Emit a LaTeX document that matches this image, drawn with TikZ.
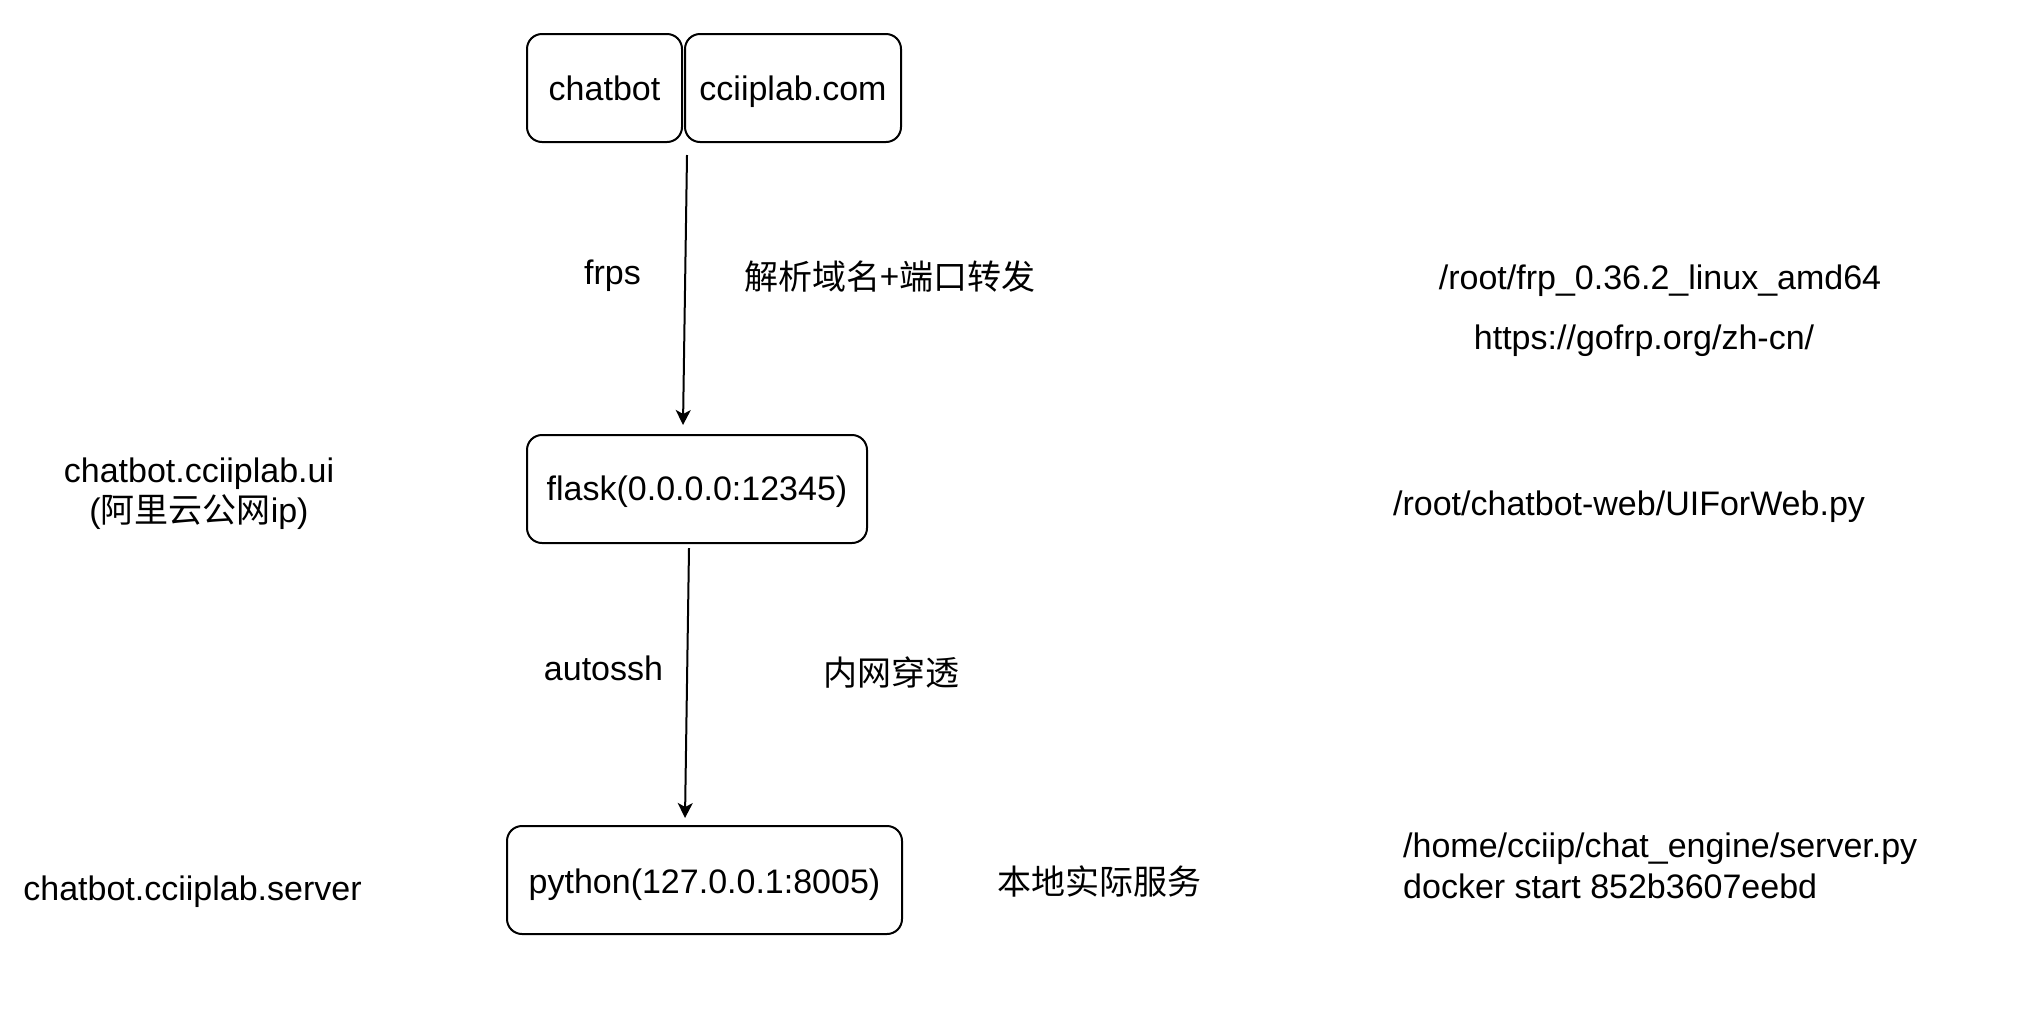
\documentclass[tikz,border=0pt]{standalone}
\usepackage{fontspec}
\setmainfont{Liberation Sans}
\newfontfamily\cjk{Noto Sans CJK SC}
\usetikzlibrary{arrows.meta}
\begin{document}
\begin{tikzpicture}[x=1pt,y=-1pt,
  box/.style={draw, line width=2pt, rounded corners=15pt, inner sep=0pt,
    text height=32pt, text depth=8pt, font=\fontsize{34pt}{40pt}\selectfont},
  lbl/.style={anchor=base, inner sep=0pt, font=\fontsize{34pt}{40pt}\selectfont},
  arr/.style={line width=2pt, -{Stealth[length=15pt,width=15pt,inset=4pt]}}
]
\useasboundingbox (0,0) rectangle (2020,1021);

% boxes
\node[box, minimum width=155pt, minimum height=108pt] (chatbot) at (604.5,88) {chatbot};
\node[box, minimum width=216pt, minimum height=108pt] (domain) at (793,88) {cciiplab.com};
\node[box, minimum width=340pt, minimum height=108pt, text height=31pt] (flask) at (697,489) {flask(0.0.0.0:12345)};
\node[box, minimum width=395pt, minimum height=108pt, text height=35pt] (python) at (704.5,880) {python(127.0.0.1:8005)};

% connectors
\coordinate (a1s) at (687,155);
\coordinate (a1e) at (683,425);
\coordinate (a2s) at (689,548);
\coordinate (a2e) at (685,818);
\draw[arr] (a1s) -- (a1e);
\draw[arr] (a2s) -- (a2e);

% labels
\node[lbl] (frps) at (612.5,284) {frps};
\node[lbl] (dns) at (890,289) {\cjk 解析域名+端口转发};
\node[lbl] (autossh) at (603.5,680) {autossh};
\node[lbl] (nat) at (891.5,685) {\cjk 内网穿透};
\node[lbl] (local) at (1099.5,894) {\cjk 本地实际服务};

\node[lbl] (uiname) at (199,482) {chatbot.cciiplab.ui};
\node[lbl] (uiip) at (199,522) {({\cjk 阿里云公网}ip)};
\node[lbl] (servername) at (192.5,900) {chatbot.cciiplab.server};

\node[lbl] (frppath) at (1660,289) {/root/frp\_0.36.2\_linux\_amd64};
\node[lbl] (frpurl) at (1644,349) {https://gofrp.org/zh-cn/};
\node[lbl] (webpath) at (1629,515) {/root/chatbot-web/UIForWeb.py};
\node[lbl, anchor=base west] (serverpath) at (1403,857) {/home/cciip/chat\_engine/server.py};
\node[lbl, anchor=base west] (docker) at (1403,898) {docker start 852b3607eebd};
\end{tikzpicture}
\end{document}
